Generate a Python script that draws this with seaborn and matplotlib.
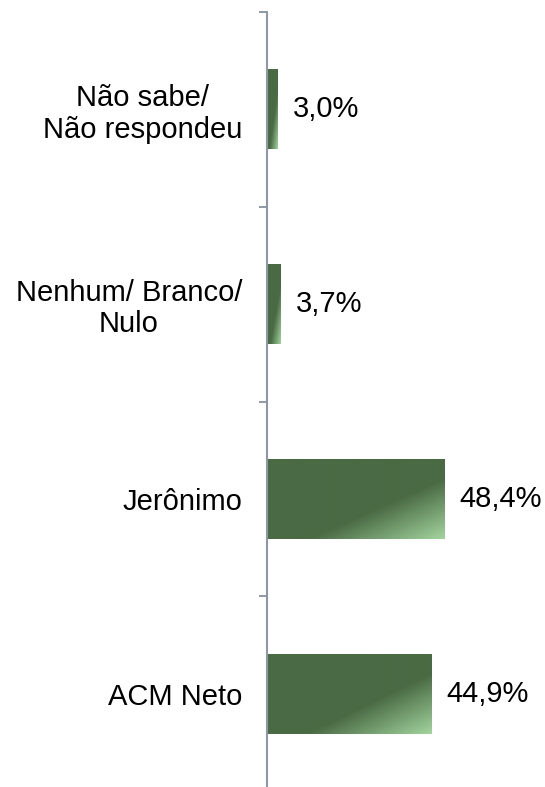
import numpy as np
import pandas as pd
import matplotlib
matplotlib.use('Agg')
import matplotlib.pyplot as plt
import seaborn as sns
from matplotlib.colors import LinearSegmentedColormap

# data
candidates = ['Não sabe/\nNão respondeu', 'Nenhum/ Branco/\nNulo', 'Jerônimo', 'ACM Neto']
share = [3.0, 3.7, 48.4, 44.9]
value_labels = ['3,0%', '3,7%', '48,4%', '44,9%']

df = pd.DataFrame({'candidato': candidates, 'pct': share})

sns.set_style('white')
plt.rcParams['font.family'] = ['Liberation Sans', 'DejaVu Sans']

fig = plt.figure(figsize=(5.45, 7.87), dpi=100)
ax = fig.add_axes([267 / 545, -4 / 787, 278 / 545, 779 / 787])

dark = '#4a6a44'
light = '#a2d49e'
sns.barplot(data=df, x='pct', y='candidato', order=candidates, orient='h',
            color=dark, width=0.41, saturation=1, ax=ax)

# diagonal gradient towards bottom-right corner of each bar
cmap = LinearSegmentedColormap.from_list('grn', [dark, light], N=256)
nu, nv = 200, 100
u, v = np.meshgrid(np.linspace(0, 1, nu), np.linspace(0, 1, nv))
s = (u + v) / 2
grad = np.clip((s - 0.62) / 0.38, 0, 1)
for p in ax.patches:
    x0, y0 = p.get_x(), p.get_y()
    w, h = p.get_width(), p.get_height()
    im = ax.imshow(grad, cmap=cmap, vmin=0, vmax=1, aspect='auto',
                   origin='upper', extent=(x0, x0 + w, y0 + h, y0),
                   interpolation='bilinear', zorder=p.get_zorder() + 0.1)
    im.set_clip_path(p)

ax.set_xlim(0, 76)
ax.set_ylim(3.5, -0.5)

ax.bar_label(ax.containers[0], labels=value_labels, padding=11, fontsize=21, color='black')

for sp in ['top', 'right', 'bottom']:
    ax.spines[sp].set_visible(False)
axis_grey = '#8e98a4'
ax.spines['left'].set_color(axis_grey)
ax.spines['left'].set_linewidth(1.5)

ax.set_xticks([])
ax.set_xlabel('')
ax.set_ylabel('')
ax.set_yticks(range(len(candidates)))
ax.set_yticklabels(candidates, fontsize=21, color='black', linespacing=1.15)
ax.tick_params(axis='y', which='major', left=True, length=0, pad=18)
ax.set_yticks(np.arange(-0.5, 4.0, 1.0), minor=True)
ax.tick_params(axis='y', which='minor', left=True, length=6, width=1.4,
               color=axis_grey, direction='out')

for t in ax.get_yticklabels():
    t.set_multialignment('center')

plt.savefig('out.png', dpi=100)
plt.close()
